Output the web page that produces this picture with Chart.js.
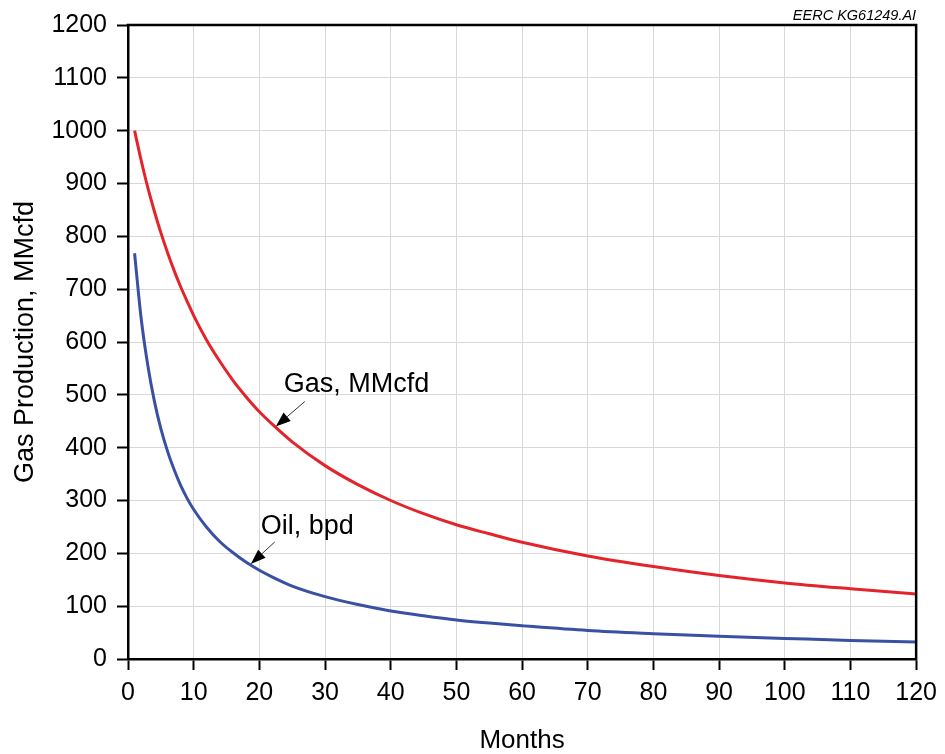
<!DOCTYPE html>
<html>
<head>
<meta charset="utf-8">
<title>Gas and oil production decline</title>
<script src="https://cdn.jsdelivr.net/npm/chart.js@4/dist/chart.umd.min.js"></script>
<style>
  html, body { margin: 0; padding: 0; background: #ffffff; }
  canvas { display: block; }
</style>
</head>
<body>
<canvas id="decline" width="945" height="754"></canvas>
<script>
// Production month
const months = [1, 2, 3, 4, 5, 6, 7, 8, 9, 10, 12, 14, 16, 18, 20, 22, 25, 30, 35, 40,
                45, 50, 55, 60, 70, 80, 90, 100, 110, 120];
// Gas rate, MMcfd
const gasMMcfd = [1000, 944, 893, 848, 807, 770, 736, 705, 677, 650, 603, 563, 527, 496, 468,
                  444, 411, 366, 330, 300, 275, 254, 237, 221, 195, 175, 158, 144, 133, 123];
// Oil rate, bpd
const oilBpd = [768, 645, 557, 489, 436, 394, 359, 329, 304, 283, 249, 222, 201, 183, 168,
                155, 138, 118, 103, 91, 82, 74, 68, 63, 54, 48, 43, 39, 35, 32];

// Axis tick values
const monthTicks = [0, 10, 20, 30, 40, 50, 60, 70, 80, 90, 100, 110, 120];
const rateTicks = [0, 100, 200, 300, 400, 500, 600, 700, 800, 900, 1000, 1100, 1200];

// Curve call-outs: label text and the point on the curve the arrow touches
const callouts = [
  { text: 'Gas, MMcfd', month: 22.5, value: 440, tail: [29, -25], label: [8, -35] },
  { text: 'Oil, bpd',   month: 18.7, value: 180, tail: [24, -22], label: [10, -30] }
];

const FONT = 'Arial, "Liberation Sans", Helvetica, sans-serif';

const toPoints = (xs, ys) => xs.map((m, i) => ({ x: m, y: ys[i] }));

// Closes the plot frame (top and right edges) and draws the arrow call-outs
const frameAndCallouts = {
  id: 'frameAndCallouts',
  afterDatasetsDraw(chart) {
    const { ctx, chartArea: a, scales: { x, y } } = chart;
    ctx.save();
    ctx.strokeStyle = '#000000';
    ctx.lineWidth = 2.5;
    ctx.lineCap = 'square';
    ctx.beginPath();
    ctx.moveTo(a.left, a.top);
    ctx.lineTo(a.right, a.top);
    ctx.lineTo(a.right, a.bottom);
    ctx.stroke();

    callouts.forEach(c => {
      const tx = x.getPixelForValue(c.month);
      const ty = y.getPixelForValue(c.value);
      const sx = tx + c.tail[0];
      const sy = ty + c.tail[1];
      const ang = Math.atan2(ty - sy, tx - sx);
      const headLen = 15, headHalf = 5.5;
      const bx = tx - headLen * Math.cos(ang);
      const by = ty - headLen * Math.sin(ang);

      ctx.strokeStyle = '#333333';
      ctx.lineWidth = 1;
      ctx.lineCap = 'butt';
      ctx.beginPath();
      ctx.moveTo(sx, sy);
      ctx.lineTo(bx, by);
      ctx.stroke();

      ctx.fillStyle = '#000000';
      ctx.beginPath();
      ctx.moveTo(tx, ty);
      ctx.lineTo(bx + headHalf * Math.sin(ang), by - headHalf * Math.cos(ang));
      ctx.lineTo(bx - headHalf * Math.sin(ang), by + headHalf * Math.cos(ang));
      ctx.closePath();
      ctx.fill();

      ctx.font = '27px ' + FONT;
      ctx.textAlign = 'left';
      ctx.textBaseline = 'alphabetic';
      ctx.fillText(c.text, tx + c.label[0], ty + c.label[1]);
    });

    // drawing reference number
    ctx.font = 'italic 14.5px ' + FONT;
    ctx.textAlign = 'right';
    ctx.textBaseline = 'alphabetic';
    ctx.fillStyle = '#000000';
    ctx.fillText('EERC KG61249.AI', a.right, 20);
    ctx.restore();
  }
};

new Chart(document.getElementById('decline'), {
  type: 'line',
  data: {
    datasets: [
      {
        label: 'Gas, MMcfd',
        data: toPoints(months, gasMMcfd),
        borderColor: '#e3242b',
        borderWidth: 3,
        pointRadius: 0,
        cubicInterpolationMode: 'monotone',
        fill: false
      },
      {
        label: 'Oil, bpd',
        data: toPoints(months, oilBpd),
        borderColor: '#3a50a2',
        borderWidth: 3,
        pointRadius: 0,
        cubicInterpolationMode: 'monotone',
        fill: false
      }
    ]
  },
  options: {
    responsive: false,
    animation: false,
    devicePixelRatio: 1,
    layout: { padding: { left: 0, top: 25, right: 25, bottom: 0 } },
    plugins: {
      legend: { display: false },
      tooltip: { enabled: false }
    },
    scales: {
      x: {
        type: 'linear',
        min: 0,
        max: 120,
        afterBuildTicks: s => { s.ticks = monthTicks.map(v => ({ value: v })); },
        afterFit: s => { s.height = 95; },
        border: { color: '#000000', width: 2.5 },
        grid: { color: '#d8d8d8', lineWidth: 1, tickColor: '#000000', tickWidth: 2, tickLength: 11 },
        ticks: {
          color: '#000000',
          font: { family: FONT, size: 25 },
          padding: 8,
          maxRotation: 0,
          callback: v => String(v)
        },
        title: {
          display: true,
          text: 'Months',
          color: '#000000',
          font: { family: FONT, size: 26 },
          padding: { top: 0, bottom: -2 }
        }
      },
      y: {
        type: 'linear',
        min: 0,
        max: 1200,
        afterBuildTicks: s => { s.ticks = rateTicks.map(v => ({ value: v })); },
        afterFit: s => { s.width = 128; },
        border: { color: '#000000', width: 2.5 },
        grid: { color: '#d8d8d8', lineWidth: 1, tickColor: '#000000', tickWidth: 2, tickLength: 11 },
        ticks: {
          color: '#000000',
          font: { family: FONT, size: 25 },
          padding: 10,
          callback: v => String(v)
        },
        title: {
          display: true,
          text: 'Gas Production, MMcfd',
          color: '#000000',
          font: { family: FONT, size: 27 },
          padding: { top: 9, bottom: 0 }
        }
      }
    }
  },
  plugins: [frameAndCallouts]
});
</script>
</body>
</html>
